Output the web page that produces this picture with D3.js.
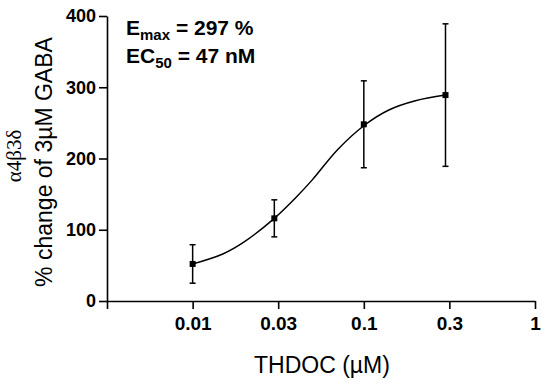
<!DOCTYPE html>
<html>
<head>
<meta charset="utf-8">
<script src="https://cdn.jsdelivr.net/npm/d3@7"></script>
<style>
  body { margin: 0; background: #fff; }
  svg { display: block; font-family: "Liberation Sans", Arial, sans-serif; }
</style>
</head>
<body>
<svg id="chart" width="550" height="386"></svg>
<script>
// THDOC concentration (µM) and response (% change of 3µM GABA)
const conc = [0.01, 0.03, 0.1, 0.3];
const meanResp = [52, 116, 248, 289];
const errResp = [27, 26, 61, 100];

// fitted curve
const fitConc = [0.01, 0.015, 0.02, 0.03, 0.04, 0.05, 0.07, 0.1, 0.14, 0.2, 0.3];
const fitResp = [52, 66, 83, 116, 145, 170, 212, 246, 268, 281, 289];

// axis ticks
const xTickVals = [0.00316, 0.01, 0.0316, 0.1, 0.316, 1];
const xTickLabels = ['', '0.01', '0.03', '0.1', '0.3', '1'];
const yTickVals = [0, 100, 200, 300, 400];

const svg = d3.select('#chart');

const x = d3.scaleLog().domain([0.00316, 1]).range([107, 535]);
const y = d3.scaleLinear().domain([0, 400]).range([301, 16]);

// axes
const xAxis = d3.axisBottom(x)
  .tickValues(xTickVals)
  .tickFormat((d, i) => xTickLabels[i])
  .tickSize(8).tickPadding(8).tickSizeOuter(0);
const yAxis = d3.axisLeft(y)
  .tickValues(yTickVals)
  .tickFormat(d3.format('d'))
  .tickSize(8).tickPadding(3).tickSizeOuter(0);

const gx = svg.append('g').attr('transform', 'translate(0,301)').call(xAxis);
const gy = svg.append('g').attr('transform', 'translate(107,0)').call(yAxis);

[gx, gy].forEach(g => {
  g.selectAll('path, line').attr('stroke', '#000').attr('stroke-width', 1.6);
  g.selectAll('text')
    .attr('fill', '#000')
    .style('font-size', '18px')
    .style('font-weight', 'bold')
    .style('font-family', '"Liberation Sans", Arial, sans-serif');
});
gx.selectAll('text').style('font-size', '19px');

// fit curve
const line = d3.line()
  .x((d, i) => x(fitConc[i]))
  .y(d => y(d))
  .curve(d3.curveCatmullRom.alpha(0.5));

svg.append('path')
  .datum(fitResp)
  .attr('d', line)
  .attr('fill', 'none')
  .attr('stroke', '#000')
  .attr('stroke-width', 1.5);

// error bars
const pts = conc.map((c, i) => ({ c, m: meanResp[i], e: errResp[i] }));
const eb = svg.append('g').attr('stroke', '#000').attr('stroke-width', 1.5);
eb.selectAll('.v').data(pts).join('line')
  .attr('x1', d => x(d.c)).attr('x2', d => x(d.c))
  .attr('y1', d => y(d.m - d.e)).attr('y2', d => y(d.m + d.e));
eb.selectAll('.top').data(pts).join('line')
  .attr('x1', d => x(d.c) - 3).attr('x2', d => x(d.c) + 3)
  .attr('y1', d => y(d.m + d.e)).attr('y2', d => y(d.m + d.e));
eb.selectAll('.bot').data(pts).join('line')
  .attr('x1', d => x(d.c) - 3).attr('x2', d => x(d.c) + 3)
  .attr('y1', d => y(d.m - d.e)).attr('y2', d => y(d.m - d.e));

// markers
svg.append('g').selectAll('rect').data(pts).join('rect')
  .attr('x', d => x(d.c) - 3).attr('y', d => y(d.m) - 3)
  .attr('width', 6).attr('height', 6)
  .attr('fill', '#000');

// annotation
const ann = svg.append('g')
  .style('font-weight', 'bold')
  .style('font-size', '21px')
  .attr('fill', '#000');
const t1 = ann.append('text').attr('x', 126).attr('y', 35);
t1.append('tspan').text('E');
t1.append('tspan').attr('dy', 5).style('font-size', '15px').text('max');
t1.append('tspan').attr('dy', -5).text(' = 297 %');
const t2 = ann.append('text').attr('x', 126).attr('y', 63);
t2.append('tspan').text('EC');
t2.append('tspan').attr('dy', 5).style('font-size', '15px').text('50');
t2.append('tspan').attr('dy', -5).text(' = 47 nM');

// axis titles
svg.append('text')
  .attr('x', 322).attr('y', 373)
  .attr('text-anchor', 'middle')
  .style('font-size', '23px')
  .text('THDOC (µM)');

svg.append('text')
  .attr('transform', 'translate(21,156) rotate(-90)')
  .attr('text-anchor', 'middle')
  .attr('fill', '#000')
  .style('font-family', '"Liberation Serif", "DejaVu Serif", serif')
  .style('font-size', '21px')
  .text('α4β3δ');

svg.append('text')
  .attr('transform', 'translate(52,162) rotate(-90)')
  .attr('text-anchor', 'middle')
  .style('font-size', '23px')
  .text('% change of 3µM GABA');
</script>
</body>
</html>
